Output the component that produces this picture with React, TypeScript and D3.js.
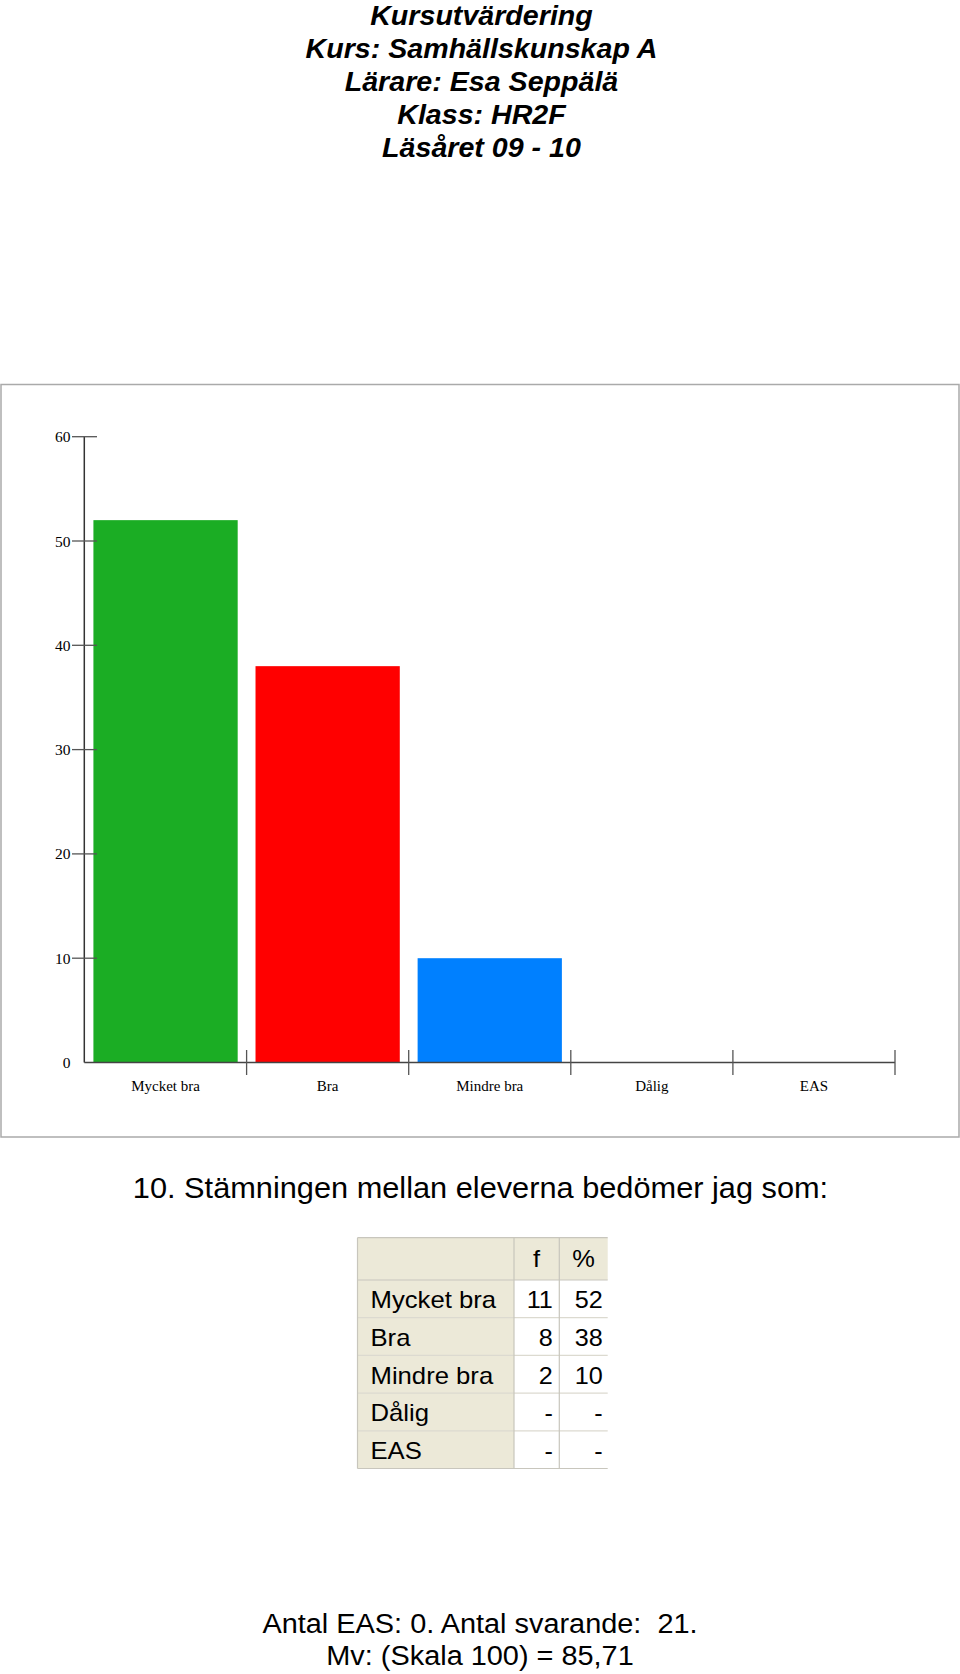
import React from "react";
import * as d3 from "d3";

const titleLines = [
  "Kursutvärdering",
  "Kurs: Samhällskunskap A",
  "Lärare: Esa Seppälä",
  "Klass: HR2F",
  "Läsåret 09 - 10",
];
const categories = ["Mycket bra", "Bra", "Mindre bra", "Dålig", "EAS"];
const percents = [52, 38, 10, 0, 0];
const counts: (number | null)[] = [11, 8, 2, null, null];
const pctLabels: (number | null)[] = [52, 38, 10, null, null];
const barColors = ["#1bad24", "#ff0000", "#0080ff", "#888888", "#888888"];
const yTicks = [0, 10, 20, 30, 40, 50, 60];
const question = "10. Stämningen mellan eleverna bedömer jag som:";
const footerLines = ["Antal EAS: 0. Antal svarande:\u00a0 21.", "Mv: (Skala 100) = 85,71"];
const tableHeader = ["", "f", "%"];

const SANS = "'Liberation Sans', Arial, Helvetica, sans-serif";
const SERIF = "'Liberation Serif', 'Times New Roman', serif";

function SText(props: {
  x: number;
  y: number;
  sx: number;
  anchor: "start" | "middle" | "end";
  size: number;
  family: string;
  weight?: string;
  italic?: boolean;
  fill?: string;
  children: React.ReactNode;
}) {
  const { x, y, sx, anchor, size, family, weight, italic, fill, children } = props;
  return (
    <g transform={`translate(${x},${y}) scale(${sx},1)`}>
      <text
        x={0}
        y={0}
        textAnchor={anchor}
        fontSize={size}
        fontFamily={family}
        fontWeight={weight || "normal"}
        fontStyle={italic ? "italic" : "normal"}
        fill={fill || "#000"}
        style={{ whiteSpace: "pre" }}
      >
        {children}
      </text>
    </g>
  );
}

export default function App() {
  const W = 960;
  const H = 1674;

  const x = d3
    .scaleBand<string>()
    .domain(categories)
    .range([84.5, 895])
    .paddingInner(0.11)
    .paddingOuter(0.055);
  const y = d3.scaleLinear().domain([0, 60]).range([1062.5, 436.7]);
  const step = x.step();
  const bandEdges = categories.map((_, i) => 84.5 + step * (i + 1));

  // table geometry
  const colX = [357.5, 514, 559.3, 607.7];
  const headerTop = 1237.7;
  const headerBottom = 1280;
  const rowH = 37.7;
  const rowTops = categories.map((_, i) => headerBottom + i * rowH);
  const tableBottom = headerBottom + categories.length * rowH;
  const beige = "#ece9d8";
  const gridGray = "#c8c6bd";

  return (
    <svg
      width={W}
      height={H}
      style={{ position: "absolute", left: 0, top: 0, background: "#fff" }}
    >
      <rect x={0} y={0} width={W} height={H} fill="#fff" />

      {/* Title */}
      {titleLines.map((t, i) => (
        <SText
          key={t}
          x={481.5}
          y={24.5 + i * 33}
          sx={1.06}
          anchor="middle"
          size={27}
          family={SANS}
          weight="bold"
          italic
        >
          {t}
        </SText>
      ))}

      {/* Chart frame */}
      <rect x={1} y={384.5} width={958} height={752.5} fill="#fff" stroke="#aaaaaa" strokeWidth={1.5} />

      {/* Bars */}
      {categories.map((c, i) =>
        percents[i] > 0 ? (
          <rect
            key={c}
            x={x(c)}
            y={y(percents[i])}
            width={x.bandwidth()}
            height={y(0) - y(percents[i])}
            fill={barColors[i]}
          />
        ) : null
      )}

      {/* Y axis */}
      <line x1={84.3} x2={84.3} y1={y(60)} y2={y(0)} stroke="#333" strokeWidth={1.5} />
      {yTicks.map((t) => (
        <g key={t}>
          {t > 0 && <line x1={72} x2={97} y1={y(t)} y2={y(t)} stroke="#555" strokeWidth={1.3} />}
          <SText x={70.5} y={y(t) + 5.5} sx={1.0} anchor="end" size={15.5} family={SERIF}>
            {t}
          </SText>
        </g>
      ))}

      {/* X axis */}
      <line x1={84.3} x2={895} y1={y(0)} y2={y(0)} stroke="#444" strokeWidth={1.5} />
      {bandEdges.map((bx, i) => (
        <line key={i} x1={bx} x2={bx} y1={1050} y2={1075} stroke="#555" strokeWidth={1.3} />
      ))}
      {categories.map((c) => (
        <SText key={c} x={(x(c) as number) + x.bandwidth() / 2} y={1090.5} sx={1.0} anchor="middle" size={15} family={SERIF}>
          {c}
        </SText>
      ))}

      {/* Question */}
      <SText x={480.5} y={1197.5} sx={1.06} anchor="middle" size={29} family={SANS}>
        {question}
      </SText>

      {/* Table */}
      <rect x={colX[0]} y={headerTop} width={colX[3] - colX[0]} height={headerBottom - headerTop} fill={beige} />
      <rect x={colX[0]} y={headerBottom} width={colX[1] - colX[0]} height={tableBottom - headerBottom} fill={beige} />
      <rect x={colX[1]} y={headerBottom} width={colX[3] - colX[1]} height={tableBottom - headerBottom} fill="#fff" />
      {/* horizontal lines */}
      <line x1={colX[0]} x2={colX[3]} y1={headerTop} y2={headerTop} stroke={gridGray} strokeWidth={1.2} />
      <line x1={colX[0]} x2={colX[3]} y1={headerBottom} y2={headerBottom} stroke={gridGray} strokeWidth={1.2} />
      {rowTops.slice(1).map((ry, i) => (
        <line key={i} x1={colX[0]} x2={colX[3]} y1={ry} y2={ry} stroke="#dcdad0" strokeWidth={1.2} />
      ))}
      <line x1={colX[0]} x2={colX[3]} y1={tableBottom} y2={tableBottom} stroke={gridGray} strokeWidth={1.2} />
      {/* vertical lines */}
      <line x1={colX[0]} x2={colX[0]} y1={headerTop} y2={tableBottom} stroke={gridGray} strokeWidth={1.2} />
      <line x1={colX[1]} x2={colX[1]} y1={headerTop} y2={tableBottom} stroke={gridGray} strokeWidth={1.2} />
      <line x1={colX[2]} x2={colX[2]} y1={headerTop} y2={tableBottom} stroke={gridGray} strokeWidth={1.2} />
      {/* header texts */}
      {tableHeader.map((h, i) =>
        h ? (
          <SText key={i} x={(colX[i] + colX[i + 1]) / 2} y={1267} sx={1.06} anchor="middle" size={24} family={SANS}>
            {h}
          </SText>
        ) : null
      )}
      {/* rows */}
      {categories.map((c, i) => (
        <g key={c}>
          <SText x={colX[0] + 13} y={rowTops[i] + 28.3} sx={1.07} anchor="start" size={24} family={SANS}>
            {c}
          </SText>
          <SText x={colX[2] - 6.5} y={rowTops[i] + 28.3} sx={1.05} anchor="end" size={24} family={SANS}>
            {counts[i] === null ? "-" : String(counts[i])}
          </SText>
          <SText x={colX[3] - 5} y={rowTops[i] + 28.3} sx={1.05} anchor="end" size={24} family={SANS}>
            {pctLabels[i] === null ? "-" : String(pctLabels[i])}
          </SText>
        </g>
      ))}

      {/* Footer */}
      {footerLines.map((t, i) => (
        <SText key={i} x={480} y={1633.3 + i * 32} sx={1.07} anchor="middle" size={27} family={SANS}>
          {t}
        </SText>
      ))}
    </svg>
  );
}
